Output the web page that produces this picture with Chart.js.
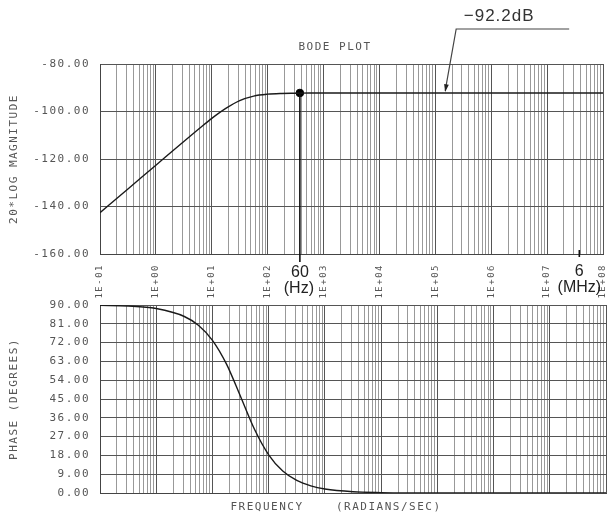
<!DOCTYPE html>
<html>
<head>
<meta charset="utf-8">
<script src="https://cdn.jsdelivr.net/npm/chart.js@4"></script>
<style>
  html, body { margin: 0; padding: 0; background: #fff; }
  #wrap { position: relative; width: 608px; height: 519px; overflow: hidden; }
  canvas { position: absolute; left: 0; }
  #magChart { top: 0; }
  #phaseChart { top: 300px; }
</style>
</head>
<body>
<div id="wrap">
  <canvas id="magChart" width="608" height="300"></canvas>
  <canvas id="phaseChart" width="608" height="219"></canvas>
</div>
<script>
// frequency points (rad/s)
var freqs = [0.1, 0.316, 1, 3.16, 5.62, 10, 17.8, 31.6, 56.2, 100, 178, 316, 562, 1000, 3160, 1e4, 1e5, 1e6, 1e7, 1e8];
// 20*log magnitude (dB)
var magnitude = [-142.6, -132.6, -122.6, -112.6, -107.7, -102.9, -98.7, -95.4, -93.5, -92.7, -92.4, -92.3, -92.2, -92.2, -92.2, -92.2, -92.2, -92.2, -92.2, -92.2];
// phase (degrees)
var phase = [89.8, 89.5, 88.3, 84.5, 80.3, 73.1, 61.7, 46.2, 30.4, 18.3, 10.5, 6.0, 3.4, 1.9, 0.6, 0.2, 0, 0, 0, 0];

var magTicks = [-80, -100, -120, -140, -160];
var phaseTicks = [90, 81, 72, 63, 54, 45, 36, 27, 18, 9, 0];
var decades = [-1, 0, 1, 2, 3, 4, 5, 6, 7, 8];

var mark60Hz = { x: 377, y: -92.2 };   // 60 Hz = 377 rad/s
var mark6MHz = 3.77e7;                 // 6 MHz in rad/s
var callout = { x: 1.5e5, y: -92.2, text: '\u221292.2dB' };

var monoFont = { family: 'DejaVu Sans Mono', size: 11 };
var textGray = '#555';

// all log grid positions 1..9 per decade
var xTickList = [];
decades.forEach(function (d) {
  for (var m = 1; m <= 9; m++) {
    if (d === 8 && m > 1) break;
    xTickList.push({ value: Number((m * Math.pow(10, d)).toPrecision(3)), major: m === 1 });
  }
});

function expLabel(v) {
  var e = Math.round(Math.log10(v));
  return '1E' + (e < 0 ? '-' : '+') + String(Math.abs(e)).padStart(2, '0');
}

function xScale(showLabels, height) {
  return {
    type: 'logarithmic',
    min: 0.1,
    max: 1e8,
    afterBuildTicks: function (s) { s.ticks = xTickList.map(function (t) { return { value: t.value, major: t.major }; }); },
    afterFit: function (s) { s.height = height; s.paddingLeft = 0; s.paddingRight = 0; },
    grid: {
      drawTicks: false,
      color: function (c) { return c.tick && c.tick.major ? '#555' : '#999'; },
      lineWidth: 1
    },
    border: { display: true, color: '#444' },
    ticks: {
      display: showLabels,
      autoSkip: false,
      minRotation: 90,
      maxRotation: 90,
      padding: 10,
      color: textGray,
      font: { family: 'DejaVu Sans Mono', size: 9 },
      callback: function (v, i, ticks) { return ticks[i].major ? expLabel(v) : ''; }
    }
  };
}

function yScale(min, max, tickVals, title) {
  return {
    type: 'linear',
    min: min,
    max: max,
    afterBuildTicks: function (s) { s.ticks = tickVals.map(function (v) { return { value: v }; }); },
    afterFit: function (s) { s.width = 100; s.paddingTop = 0; s.paddingBottom = 0; },
    grid: { drawTicks: false, color: '#555', lineWidth: 1 },
    border: { display: true, color: '#444' },
    ticks: {
      padding: 10,
      color: textGray,
      font: monoFont,
      callback: function (v) { return Number(v).toFixed(2); }
    },
    title: { display: true, text: title, color: textGray, font: monoFont, padding: { top: 8, bottom: 0 } }
  };
}

var spacing = {
  id: 'spacing',
  beforeDraw: function (chart) { chart.ctx.letterSpacing = '1.5px'; }
};

var magNotes = {
  id: 'magNotes',
  afterDraw: function (chart) {
    var ctx = chart.ctx, xs = chart.scales.x, ys = chart.scales.y, area = chart.chartArea;
    ctx.save();
    ctx.letterSpacing = '1.5px';
    ctx.fillStyle = textGray;
    ctx.font = '11px "DejaVu Sans Mono"';
    ctx.textAlign = 'center';
    ctx.textBaseline = 'middle';
    ctx.fillText('BODE PLOT', 335, 47);

    // 60 Hz marker line
    var px = xs.getPixelForValue(mark60Hz.x);
    var py = ys.getPixelForValue(mark60Hz.y);
    ctx.strokeStyle = '#111';
    ctx.lineWidth = 1.6;
    ctx.beginPath();
    ctx.moveTo(px, py);
    ctx.lineTo(px, area.bottom + 8);
    ctx.stroke();

    // 6 MHz tick
    var mx = xs.getPixelForValue(mark6MHz);
    ctx.beginPath();
    ctx.moveTo(mx, area.bottom - 4);
    ctx.lineTo(mx, area.bottom + 3);
    ctx.stroke();

    ctx.letterSpacing = '0px';
    ctx.fillStyle = '#222';
    ctx.font = '16px "Liberation Sans"';
    ctx.fillText('60', px, area.bottom + 19);
    ctx.fillText('(Hz)', px - 1, area.bottom + 35);
    ctx.fillText('6', mx, area.bottom + 18);
    ctx.fillText('(MHz)', mx, area.bottom + 34);

    // callout -92.2dB
    var tx = xs.getPixelForValue(callout.x);
    var ty = ys.getPixelForValue(callout.y);
    var kx = tx + 11, ky = 29;
    ctx.strokeStyle = '#444';
    ctx.lineWidth = 1.2;
    ctx.beginPath();
    ctx.moveTo(kx + 113, ky);
    ctx.lineTo(kx, ky);
    ctx.lineTo(tx, ty - 2);
    ctx.stroke();
    var ang = Math.atan2(ty - ky, tx - kx);
    ctx.fillStyle = '#222';
    ctx.beginPath();
    ctx.moveTo(tx, ty - 1);
    ctx.lineTo(tx - 8 * Math.cos(ang - 0.3), ty - 1 - 8 * Math.sin(ang - 0.3));
    ctx.lineTo(tx - 8 * Math.cos(ang + 0.3), ty - 1 - 8 * Math.sin(ang + 0.3));
    ctx.closePath();
    ctx.fill();
    ctx.font = '17px "Liberation Sans"';
    ctx.letterSpacing = '1px';
    ctx.fillStyle = '#333';
    ctx.fillText(callout.text, kx + 43, 16);
    ctx.restore();
  }
};

var phaseNotes = {
  id: 'phaseNotes',
  afterDraw: function (chart) {
    var ctx = chart.ctx;
    ctx.save();
    ctx.letterSpacing = '1.5px';
    ctx.fillStyle = textGray;
    ctx.font = '11px "DejaVu Sans Mono"';
    ctx.textAlign = 'center';
    ctx.textBaseline = 'middle';
    ctx.fillText('FREQUENCY    (RADIANS/SEC)', 336, 207);
    ctx.restore();
  }
};

var commonOpts = {
  responsive: false,
  animation: false,
  events: [],
  plugins: { legend: { display: false }, tooltip: { enabled: false }, title: { display: false } }
};

new Chart(document.getElementById('magChart').getContext('2d'), {
  type: 'line',
  data: {
    datasets: [
      {
        data: freqs.map(function (f, i) { return { x: f, y: magnitude[i] }; }),
        borderColor: '#1a1a1a',
        borderWidth: 1.4,
        pointRadius: 0,
        cubicInterpolationMode: 'monotone'
      },
      {
        data: [mark60Hz],
        showLine: false,
        pointRadius: 3.8,
        pointBackgroundColor: '#000',
        pointBorderColor: '#000'
      }
    ]
  },
  options: Object.assign({}, commonOpts, {
    layout: { padding: { top: 64, right: 2, left: 0, bottom: 0 } },
    scales: {
      x: xScale(true, 46),
      y: yScale(-160, -80, magTicks, '20*LOG MAGNITUDE')
    }
  }),
  plugins: [spacing, magNotes]
});

new Chart(document.getElementById('phaseChart').getContext('2d'), {
  type: 'line',
  data: {
    datasets: [{
      data: freqs.map(function (f, i) { return { x: f, y: phase[i] }; }),
      borderColor: '#1a1a1a',
      borderWidth: 1.4,
      pointRadius: 0,
      cubicInterpolationMode: 'monotone'
    }]
  },
  options: Object.assign({}, commonOpts, {
    layout: { padding: { top: 5, right: 2, left: 0, bottom: 0 } },
    scales: {
      x: xScale(false, 26),
      y: yScale(0, 90, phaseTicks, 'PHASE (DEGREES)')
    }
  }),
  plugins: [spacing, phaseNotes]
});
</script>
</body>
</html>
